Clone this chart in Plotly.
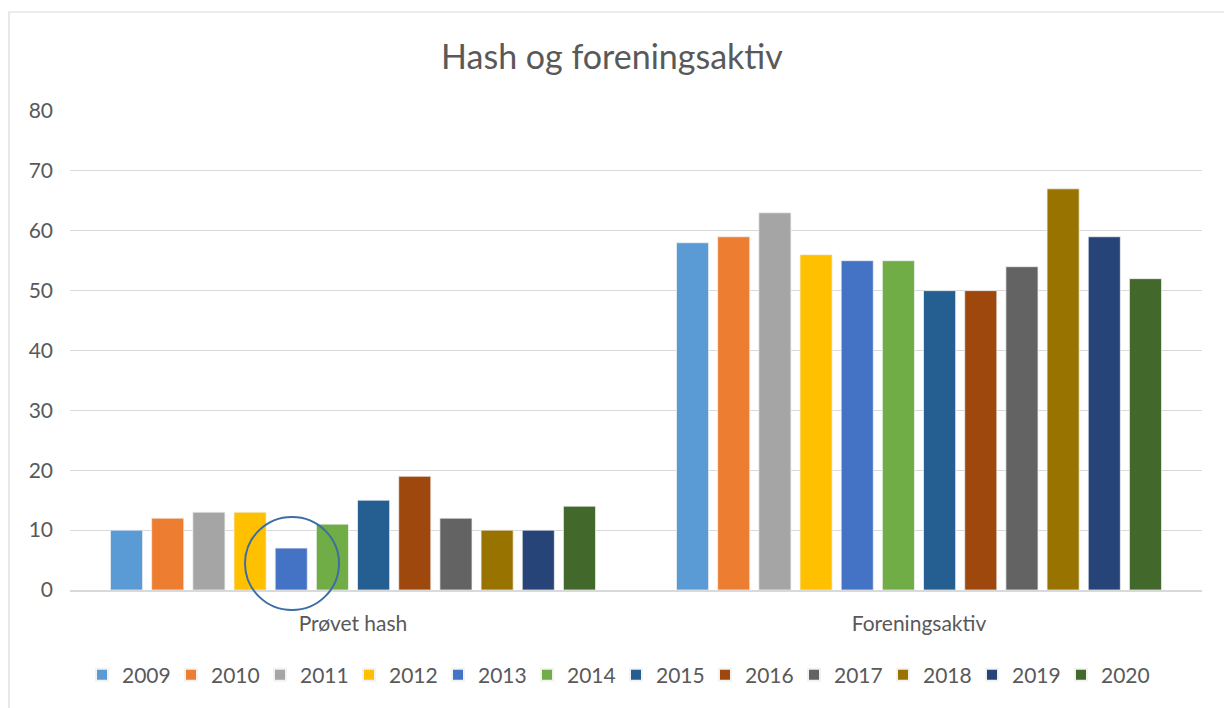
import plotly.graph_objects as go

categories = ["Prøvet hash", "Foreningsaktiv"]
years = ["2009", "2010", "2011", "2012", "2013", "2014", "2015", "2016", "2017", "2018", "2019", "2020"]
provet_hash = [10, 12, 13, 13, 7, 11, 15, 19, 12, 10, 10, 14]
foreningsaktiv = [58, 59, 63, 56, 55, 55, 50, 50, 54, 67, 59, 52]
colors = ["#5B9BD5", "#ED7D31", "#A5A5A5", "#FFC000", "#4472C4", "#70AD47",
          "#255E91", "#9E480E", "#636363", "#997300", "#264478", "#43682B"]
y_ticks = [0, 10, 20, 30, 40, 50, 60, 70, 80]

W, H = 1224, 708
L, R, T, B = 70, 22, 111, 118
pw, ph = W - L - R, H - T - B

def px_x(p):
    return (p - L) / pw

def px_y(p):
    return (H - B - p) / ph

fig = go.Figure()
for i, yr in enumerate(years):
    fig.add_trace(go.Bar(
        name=yr, x=categories, y=[provet_hash[i], foreningsaktiv[i]],
        marker=dict(color=colors[i], line=dict(color="#f2f2f2", width=0.75)),
    ))

font_fam = "Lato, 'Open Sans', sans-serif"
fig.update_layout(
    width=W, height=H,
    margin=dict(l=L, r=R, t=T, b=B),
    paper_bgcolor="white", plot_bgcolor="white",
    barmode="group", bargap=0.127, bargroupgap=0.22,
    title=dict(text="Hash og foreningsaktiv", x=0.5, xanchor="center",
               y=1 - 57 / H, yanchor="middle",
               font=dict(family=font_fam, size=34, color="#595959")),
    font=dict(family=font_fam, size=22, color="#595959"),
    legend=dict(orientation="h", x=px_x(616), xanchor="center", y=px_y(675), yanchor="middle",
                entrywidth=44, entrywidthmode="pixels",
                font=dict(family=font_fam, size=21, color="#595959"),
                itemsizing="constant", traceorder="normal"),
    showlegend=True,
)
fig.update_yaxes(range=[0, 80], tickvals=y_ticks, showgrid=True, gridcolor="#d9d9d9",
                 gridwidth=1, zeroline=False, showline=False,
                 tickfont=dict(family=font_fam, size=21, color="#595959"),
                 ticklabelstandoff=16)
fig.update_xaxes(showline=True, linecolor="#d9d9d9", linewidth=1.5, showgrid=False,
                 tickfont=dict(family=font_fam, size=21, color="#595959"),
                 ticks="", ticklabelstandoff=14)

# chart border
fig.add_shape(type="rect", xref="paper", yref="paper",
              x0=px_x(9), x1=px_x(1240), y0=px_y(720), y1=px_y(12),
              line=dict(color="#d9d9d9", width=1.2), fillcolor="rgba(0,0,0,0)", layer="below")
# circle annotation
fig.add_shape(type="circle", xref="paper", yref="paper",
              x0=px_x(245), x1=px_x(339), y0=px_y(610), y1=px_y(517),
              line=dict(color="#3A6EA5", width=2), fillcolor="rgba(0,0,0,0)")

fig.write_html("out.html", config={"displayModeBar": False},
               post_script="document.body.style.margin='0';document.body.style.overflow='hidden';")
